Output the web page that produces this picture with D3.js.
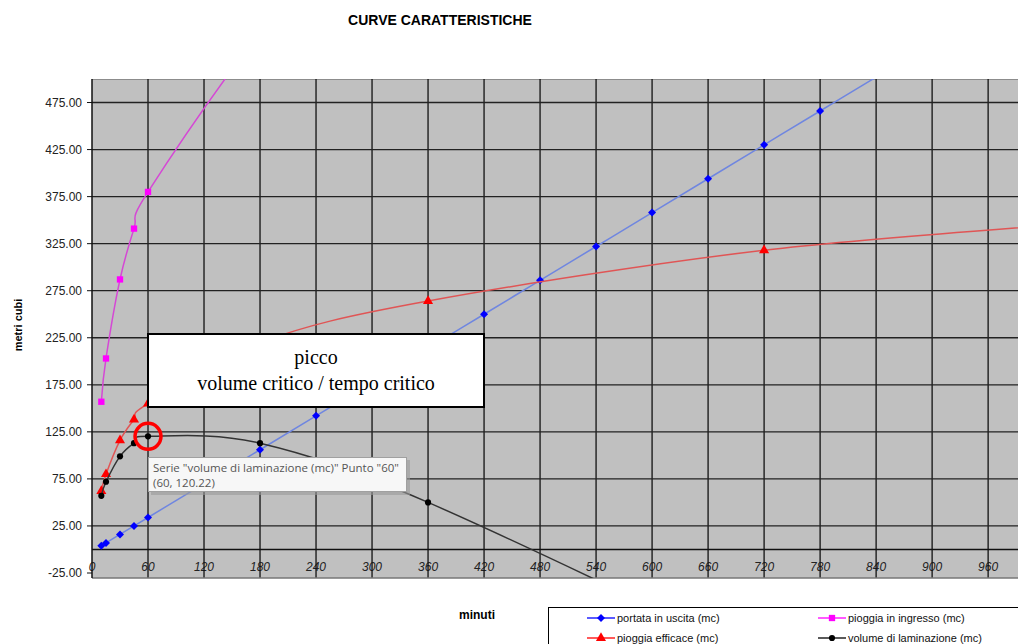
<!DOCTYPE html>
<meta charset="utf-8">
<html>
<script src="https://d3js.org/d3.v7.min.js"></script>
<style>
  body { margin: 0; background: white; }
  text { font-family: "Liberation Sans", Arial, sans-serif; }
</style>
<body>
<div id="my_dataviz"></div>
<script>
// data (minutes -> cubic metres)
const tUscita = [10, 15, 30, 45, 60, 120, 180, 240, 300, 360, 420, 480, 540, 600, 660, 720, 780, 840];
const portataUscita = [4, 7, 16, 25, 34, 70, 106, 142, 178, 214, 250, 286, 322, 358, 394, 430, 466, 502];

const tIngresso = [10, 15, 30, 45, 60, 180, 360];
const pioggiaIngresso = [157, 203, 287, 341, 380, 550, 770];

const tEfficace = [10, 15, 30, 45, 60, 180, 360, 720, 1080];
const pioggiaEfficace = [62, 80, 116, 138, 155, 220, 264, 318, 348];

const tLaminazione = [10, 15, 30, 45, 60, 180, 360, 720];
const volumeLaminazione = [57, 72, 99, 113, 120.22, 113, 50, -118];

const xTicks = [0, 60, 120, 180, 240, 300, 360, 420, 480, 540, 600, 660, 720, 780, 840, 900, 960];
const yTicks = [475, 425, 375, 325, 275, 225, 175, 125, 75, 25, -25];

const legendNames = ["portata in uscita (mc)", "pioggia in ingresso (mc)", "pioggia efficace (mc)", "volume di laminazione (mc)"];

const width = 1018, height = 644;
const pLeft = 92, pRight = 1018, pTop = 79, pBottom = 578;

const svg = d3.select("#my_dataviz").append("svg")
    .attr("width", width)
    .attr("height", height);

svg.append("rect").attr("width", width).attr("height", height).attr("fill", "white");

const x = d3.scaleLinear().domain([0, 992]).range([pLeft, pRight]);
const y = d3.scaleLinear().domain([-25, 500]).range([573, pTop]);

// title
svg.append("text")
    .attr("x", 440).attr("y", 25)
    .attr("text-anchor", "middle")
    .style("font-weight", "bold").style("font-size", "14px")
    .text("CURVE CARATTERISTICHE");

// plot area
svg.append("rect")
    .attr("x", pLeft).attr("y", pTop)
    .attr("width", pRight - pLeft).attr("height", pBottom - pTop)
    .attr("fill", "#c0c0c0");
svg.append("line")
    .attr("x1", pLeft).attr("x2", pRight).attr("y1", pTop + 0.5).attr("y2", pTop + 0.5)
    .attr("stroke", "#8c8c8c");

// x tick labels (under the gridlines, like excel)
svg.append("g").selectAll("text")
    .data(xTicks)
    .join("text")
    .attr("x", d => x(d))
    .attr("y", 571)
    .attr("text-anchor", "middle")
    .style("font-size", "12px").style("font-style", "italic").style("fill", "#222")
    .text(d => d);

// gridlines
svg.append("g").selectAll("line")
    .data(xTicks.filter(d => d > 0))
    .join("line")
    .attr("x1", d => x(d)).attr("x2", d => x(d))
    .attr("y1", pTop).attr("y2", pBottom)
    .attr("stroke", "#111").attr("stroke-width", 1.3);
svg.append("g").selectAll("line")
    .data(yTicks.filter(d => d > -25))
    .join("line")
    .attr("x1", pLeft).attr("x2", pRight)
    .attr("y1", d => y(d)).attr("y2", d => y(d))
    .attr("stroke", "#222").attr("stroke-width", 1.3);
// axis at 0
svg.append("line")
    .attr("x1", pLeft).attr("x2", pRight).attr("y1", y(0)).attr("y2", y(0))
    .attr("stroke", "#111").attr("stroke-width", 1.5);
svg.append("line")
    .attr("x1", pLeft).attr("x2", pRight).attr("y1", pBottom).attr("y2", pBottom)
    .attr("stroke", "#777").attr("stroke-width", 1.5);

// y axis
svg.append("line")
    .attr("x1", pLeft).attr("x2", pLeft).attr("y1", pTop).attr("y2", pBottom)
    .attr("stroke", "#111").attr("stroke-width", 1.5);
const yAx = svg.append("g");
yAx.selectAll("line")
    .data(yTicks)
    .join("line")
    .attr("x1", pLeft - 5).attr("x2", pLeft)
    .attr("y1", d => y(d)).attr("y2", d => y(d))
    .attr("stroke", "#111");
yAx.selectAll("text")
    .data(yTicks)
    .join("text")
    .attr("x", 82).attr("y", d => y(d) + 4)
    .attr("text-anchor", "end")
    .style("font-size", "12px").style("fill", "#222")
    .text(d => d.toFixed(2));

svg.append("text")
    .attr("transform", "translate(22,325) rotate(-90)")
    .attr("text-anchor", "middle")
    .style("font-weight", "bold").style("font-size", "11px")
    .text("metri cubi");
svg.append("text")
    .attr("x", 477).attr("y", 619)
    .attr("text-anchor", "middle")
    .style("font-weight", "bold").style("font-size", "12px")
    .text("minuti");

// series
svg.append("clipPath").attr("id", "plotclip")
  .append("rect").attr("x", pLeft).attr("y", pTop).attr("width", pRight - pLeft).attr("height", pBottom - pTop);
const plot = svg.append("g").attr("clip-path", "url(#plotclip)");

const line = d3.line().x(d => x(d[0])).y(d => y(d[1])).curve(d3.curveCardinal.tension(0));

const series = [
  {t: tUscita, v: portataUscita, line: "#6f86e0", mark: "#0000ff", sym: d3.symbolSquare, size: 32, rot: 45},
  {t: tIngresso, v: pioggiaIngresso, line: "#d548d5", mark: "#ff00ff", sym: d3.symbolSquare, size: 40, rot: 0},
  {t: tEfficace, v: pioggiaEfficace, line: "#e05555", mark: "#ff0000", sym: d3.symbolTriangle, size: 44, rot: 0},
  {t: tLaminazione, v: volumeLaminazione, line: "#333333", mark: "#000000", sym: d3.symbolCircle, size: 30, rot: 0}
];

series.forEach(s => {
  const pts = s.t.map((t, i) => [t, s.v[i]]);
  plot.append("path")
      .datum(pts)
      .attr("d", line)
      .attr("fill", "none")
      .attr("stroke", s.line)
      .attr("stroke-width", 1.5);
  // excel drops markers that fall outside the axes
  plot.selectAll(null)
      .data(pts.filter(d => d[1] <= 500 && d[1] >= -25 && d[0] <= 992))
      .join("path")
      .attr("transform", d => `translate(${x(d[0])},${y(d[1])}) rotate(${s.rot})`)
      .attr("d", d3.symbol().type(s.sym).size(s.size))
      .attr("fill", s.mark);
});

// annotation box
svg.append("rect")
    .attr("x", x(60)).attr("y", 334)
    .attr("width", 336).attr("height", 73)
    .attr("fill", "white").attr("stroke", "black").attr("stroke-width", 2);
svg.append("text")
    .attr("x", 316).attr("y", 364)
    .attr("text-anchor", "middle")
    .style("font-family", "'Liberation Serif', 'Times New Roman', serif").style("font-size", "20px")
    .text("picco");
svg.append("text")
    .attr("x", 316).attr("y", 390)
    .attr("text-anchor", "middle")
    .style("font-family", "'Liberation Serif', 'Times New Roman', serif").style("font-size", "20px")
    .text("volume critico / tempo critico");

// red circle on the peak
svg.append("circle")
    .attr("cx", x(60)).attr("cy", y(120.22))
    .attr("r", 13)
    .attr("fill", "none").attr("stroke", "#ff0000").attr("stroke-width", 3.5);

// tooltip
svg.append("rect")
    .attr("x", 151).attr("y", 460).attr("width", 259).attr("height", 35)
    .attr("fill", "#9a9a9a").attr("opacity", 0.6);
svg.append("rect")
    .attr("x", 148.5).attr("y", 457.5).attr("width", 258).attr("height", 34)
    .attr("fill", "#f7f7f7").attr("stroke", "#a0a0a0");
svg.append("text")
    .attr("x", 153).attr("y", 472)
    .style("font-family", "'Open Sans', 'Noto Sans', sans-serif").style("font-size", "11.5px").style("fill", "#555")
    .text('Serie "volume di laminazione (mc)" Punto "60"');
svg.append("text")
    .attr("x", 153).attr("y", 487)
    .style("font-family", "'Open Sans', 'Noto Sans', sans-serif").style("font-size", "11.5px").style("fill", "#555")
    .text("(60, 120.22)");

// legend
const lg = svg.append("g");
lg.append("rect")
    .attr("x", 548.5).attr("y", 607.5).attr("width", 480).attr("height", 60)
    .attr("fill", "white").attr("stroke", "black");
const legPos = [[587, 618], [818, 618], [587, 638], [818, 638]];
series.forEach((s, i) => {
  const [lx, ly] = legPos[i];
  lg.append("line")
      .attr("x1", lx).attr("x2", lx + 28).attr("y1", ly).attr("y2", ly)
      .attr("stroke", s.mark).attr("stroke-width", 1.3);
  lg.append("path")
      .attr("transform", `translate(${lx + 14},${ly}) rotate(${s.rot})`)
      .attr("d", d3.symbol().type(s.sym).size(s.size))
      .attr("fill", s.mark);
  lg.append("text")
      .attr("x", lx + 30).attr("y", ly + 4)
      .style("font-size", "11px").style("fill", "#111")
      .text(legendNames[i]);
});
</script>
</body>
</html>
